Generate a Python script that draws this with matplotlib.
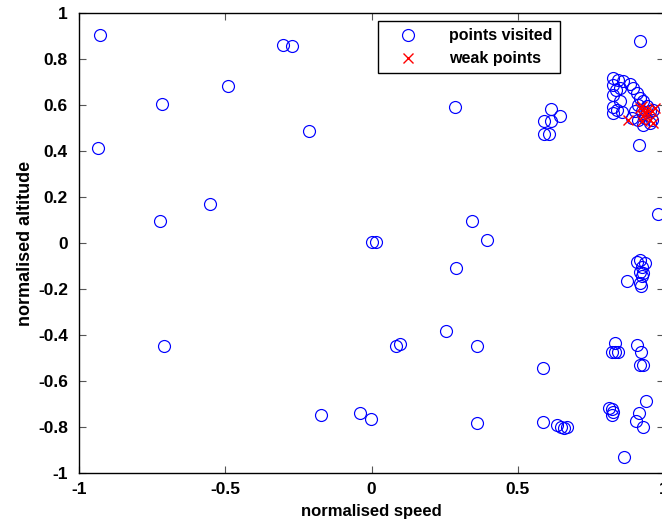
import matplotlib
matplotlib.use("Agg")
import matplotlib.pyplot as plt
import numpy as np

plt.rcParams['font.family'] = ['Liberation Sans', 'DejaVu Sans']

# points visited (normalised speed, normalised altitude)
visited_x = [-0.929, -0.936, -0.717, -0.492, -0.301, -0.273, -0.215, -0.724, -0.553, -0.711,
             -0.171, -0.038, -0.003, 0.000, 0.014, 0.085, 0.096, 0.287, 0.290, 0.253,
             0.345, 0.396, 0.359, 0.359, 0.588, 0.588,
             0.591, 0.612, 0.591, 0.608, 0.612, 0.646,
             0.635, 0.649, 0.659, 0.670,
             0.827, 0.844, 0.861, 0.885, 0.827, 0.851, 0.837, 0.827, 0.851, 0.827,
             0.840, 0.827, 0.858, 0.895, 0.909, 0.919, 0.929, 0.912, 0.943, 0.902,
             0.926, 0.953, 0.892, 0.912, 0.936, 0.960, 0.929, 0.953, 0.963, 0.916, 0.919,
             0.980,
             0.909, 0.919, 0.936, 0.926, 0.919, 0.929, 0.926, 0.875, 0.919, 0.922,
             0.834, 0.823, 0.844, 0.834, 0.909, 0.922,
             0.919, 0.929, 0.940, 0.813, 0.823, 0.827, 0.823, 0.916, 0.905, 0.929, 0.864]
visited_y = [0.903, 0.412, 0.603, 0.681, 0.860, 0.855, 0.486, 0.094, 0.168, -0.449,
             -0.749, -0.741, -0.766, 0.003, 0.003, -0.449, -0.440, 0.590, -0.110, -0.384,
             0.094, 0.012, -0.449, -0.784, -0.545, -0.780,
             0.529, 0.529, 0.473, 0.473, 0.581, 0.551,
             -0.793, -0.801, -0.806, -0.801,
             0.716, 0.707, 0.703, 0.690, 0.686, 0.673, 0.664, 0.642, 0.616, 0.590,
             0.577, 0.564, 0.568, 0.673, 0.651, 0.629, 0.616, 0.599, 0.594, 0.573,
             0.573, 0.573, 0.542, 0.533, 0.542, 0.533, 0.512, 0.521, 0.577, 0.425, 0.877,
             0.125,
             -0.084, -0.075, -0.088, -0.106, -0.127, -0.130, -0.145, -0.166, -0.175, -0.188,
             -0.436, -0.475, -0.475, -0.475, -0.445, -0.475,
             -0.532, -0.532, -0.688, -0.719, -0.723, -0.736, -0.749, -0.740, -0.775, -0.801, -0.932]

# weak points
weak_x = [0.919, 0.929, 0.926, 0.943, 0.878, 0.926, 0.953, 0.960, 0.929, 0.963, 0.940, 0.970]
weak_y = [0.586, 0.577, 0.594, 0.577, 0.533, 0.529, 0.533, 0.573, 0.551, 0.521, 0.564, 0.586]

x_ticks = [-1, -0.5, 0, 0.5, 1]
x_ticklabels = ['-1', '-0.5', '0', '0.5', '1']
y_ticks = [-1, -0.8, -0.6, -0.4, -0.2, 0, 0.2, 0.4, 0.6, 0.8, 1]
y_ticklabels = ['-1', '-0.8', '-0.6', '-0.4', '-0.2', '0', '0.2', '0.4', '0.6', '0.8', '1']

W, H = 662, 522
fig = plt.figure(figsize=(W / 100, H / 100), dpi=100)
ax = fig.add_axes([79 / W, (H - 473) / H, 585 / W, 460 / H])

ax.plot(visited_x, visited_y, linestyle='none', marker='o', markersize=8.6,
        markerfacecolor='none', markeredgecolor='#0000ff', markeredgewidth=0.85,
        label='points visited', clip_on=False)
ax.plot(weak_x, weak_y, linestyle='none', marker='x', markersize=7.5,
        markeredgecolor='#ff0000', markeredgewidth=1.0, label='weak points')

ax.set_xlim(-1, 1)
ax.set_ylim(-1, 1)
ax.set_xticks(x_ticks)
ax.set_xticklabels(x_ticklabels)
ax.set_yticks(y_ticks)
ax.set_yticklabels(y_ticklabels)
ax.tick_params(direction='in', length=5, width=0.8, top=True, right=True,
               labelsize=12.5, color='#555555')
ax.tick_params(axis='x', pad=6.5)
ax.tick_params(axis='y', pad=8)
for lab in ax.get_xticklabels() + ax.get_yticklabels():
    lab.set_fontweight('bold')
for sp in ax.spines.values():
    sp.set_linewidth(1.0)

ax.set_xlabel('normalised speed', fontsize=12, fontweight='bold', labelpad=5)
ax.set_ylabel('normalised altitude', fontsize=13, fontweight='bold', labelpad=3)

leg = ax.legend(loc='upper left', bbox_to_anchor=((378 - 79) / 585, 1 - (21 - 13) / 460),
                frameon=True, fancybox=False, edgecolor='black', framealpha=1,
                prop={'weight': 'bold', 'size': 11.5}, handletextpad=1.2,
                borderpad=0.45, labelspacing=0.5, handlelength=2.8, borderaxespad=0)
leg.get_frame().set_linewidth(1.0)

fig.savefig('out.png', dpi=100)
